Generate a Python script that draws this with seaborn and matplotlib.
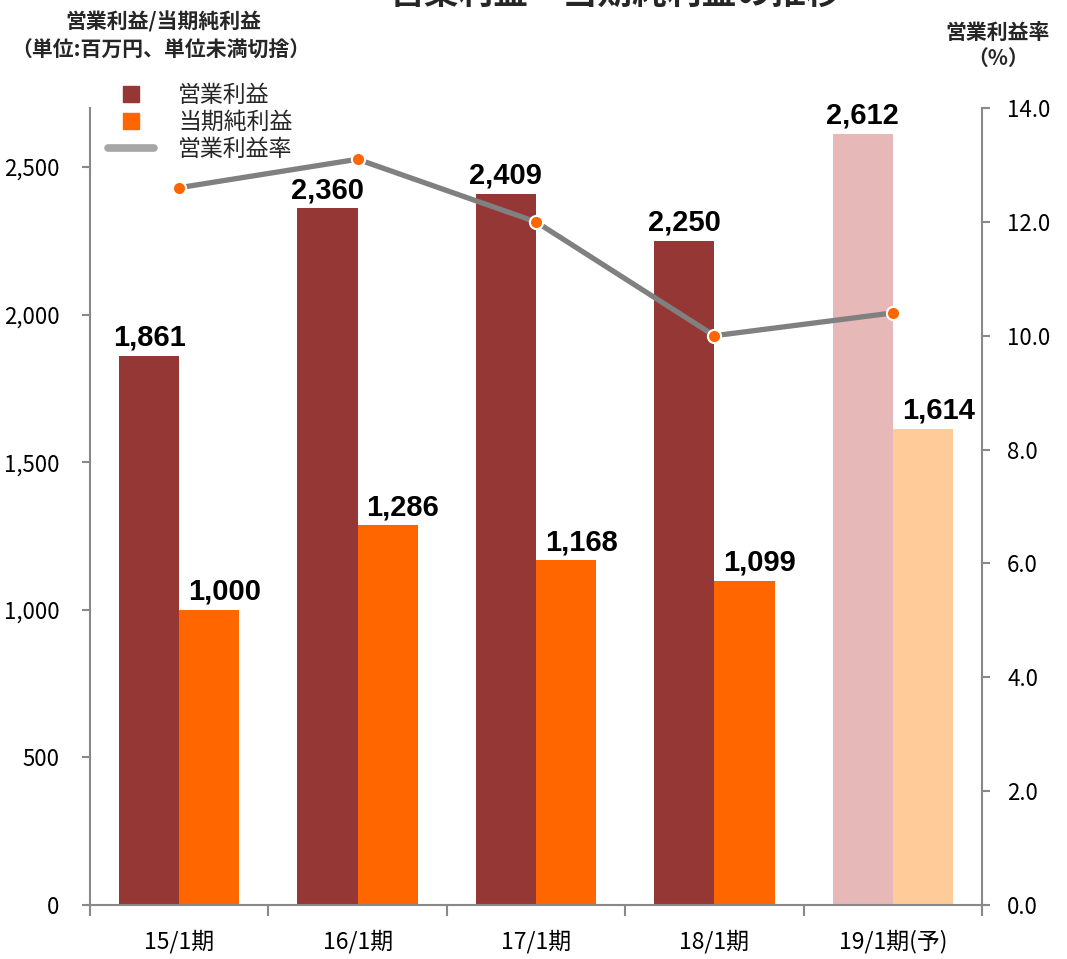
import matplotlib
matplotlib.use("Agg")
import matplotlib.pyplot as plt
import seaborn as sns
import pandas as pd
import numpy as np
from matplotlib.lines import Line2D

# ---- data ----
periods = ["15/1期", "16/1期", "17/1期", "18/1期", "19/1期(予)"]
operating_profit = [1861, 2360, 2409, 2250, 2612]
net_profit = [1000, 1286, 1168, 1099, 1614]
operating_margin = [12.6, 13.1, 12.0, 10.0, 10.4]
left_ticks = [0, 500, 1000, 1500, 2000, 2500]
right_ticks = [0, 2, 4, 6, 8, 10, 12, 14]
series_names = ["営業利益", "当期純利益", "営業利益率"]
forecast_period = "19/1期(予)"

sns.set_theme(style="white")
plt.rcParams['font.family'] = ['Noto Sans CJK JP', 'DejaVu Sans']

W, H = 1067, 959
fig = plt.figure(figsize=(W / 100, H / 100), dpi=100)
ax = fig.add_axes([90 / W, 1 - 905 / H, (982 - 90) / W, (905 - 108) / H])

df = pd.DataFrame({
    "period": periods * 2,
    "value": operating_profit + net_profit,
    "series": [series_names[0]] * len(periods) + [series_names[1]] * len(periods),
})
colors = {series_names[0]: "#953735", series_names[1]: "#FF6600"}
faded = {series_names[0]: "#E6B9B8", series_names[1]: "#FFCC99"}

sns.barplot(data=df, x="period", y="value", hue="series", order=periods,
            hue_order=series_names[:2], palette=colors, width=0.675, gap=0,
            saturation=1, legend=False, ax=ax, linewidth=0, errorbar=None)

fidx = periods.index(forecast_period)
bars = [p for p in ax.patches]
n = len(periods)
for i, p in enumerate(bars):
    s = series_names[0] if i < n else series_names[1]
    cat = i % n
    if cat == fidx:
        p.set_facecolor(faded[s])
    val = (operating_profit if i < n else net_profit)[cat]
    dx = 0 if i < n else 11
    ax.annotate(f"{val:,}", (p.get_x() + p.get_width() / 2, p.get_height()),
                xytext=(dx, 3), textcoords="offset points", ha="center", va="bottom",
                fontsize=21, fontweight="bold", family=["Liberation Sans", "DejaVu Sans"],
                color="black")

ax.set_xlim(-0.5, len(periods) - 0.5)
ax.set_ylim(0, 2700)
ax.set_yticks(left_ticks)
ax.set_yticklabels([f"{v:,}" for v in left_ticks])
ax.set_xticks(range(len(periods)))
ax.set_xticklabels(periods)
ax.set_xticks(np.arange(-0.5, len(periods), 1), minor=True)
ax.set_xlabel("")
ax.set_ylabel("")

spine_c = "#898989"
ax.tick_params(axis="y", left=True, length=6, width=1.5, color=spine_c, pad=16,
               labelsize=16, labelcolor="black")
ax.tick_params(axis="x", which="major", bottom=True, length=0, pad=18, labelsize=16.5,
               labelcolor="black")
ax.tick_params(axis="x", which="minor", bottom=True, length=8, width=1.5, color=spine_c,
               direction="out")

# ---- line on secondary axis ----
ax2 = ax.twinx()
sns.lineplot(x=np.arange(len(periods)), y=operating_margin, ax=ax2, color="#808080",
             lw=3.8, marker="o", markersize=9.5, markerfacecolor="#FF6600",
             markeredgecolor="white", markeredgewidth=1.5, zorder=5)
ax2.set_ylim(0, 14)
ax2.set_yticks(right_ticks)
ax2.set_yticklabels([f"{v:.1f}" for v in right_ticks])
ax2.set_ylabel("")
ax2.tick_params(axis="y", right=True, length=6, width=1.5, color=spine_c, pad=12,
                labelsize=16, labelcolor="black")
ax.set_xlim(-0.5, len(periods) - 0.5)

for a in (ax, ax2):
    a.spines["top"].set_visible(False)
    for s in ("left", "right", "bottom"):
        a.spines[s].set_color(spine_c)
        a.spines[s].set_linewidth(1.5)
ax.spines["right"].set_visible(False)
ax2.spines["left"].set_visible(False)
ax2.spines["bottom"].set_visible(False)

# ---- legend ----
handles = [
    Line2D([], [], linestyle="none", marker="s", markersize=12, color=colors[series_names[0]]),
    Line2D([], [], linestyle="none", marker="s", markersize=12, color=colors[series_names[1]]),
    Line2D([], [], color="#A6A6A6", lw=5.5),
]
fig.legend(handles, series_names, loc="upper left", bbox_to_anchor=(108 / W, 1 - 84 / H),
           frameon=False, fontsize=16.5, handlelength=2.0, handletextpad=1.05,
           labelspacing=0.17, borderpad=0, borderaxespad=0)

# ---- header texts ----
fig.text(615 / W, 1 - 4 / H, "営業利益・当期純利益の推移", ha="center", va="baseline",
         fontsize=25, fontweight="bold")
fig.text(163 / W, 1 - 22 / H, "営業利益/当期純利益", ha="center", va="center",
         fontsize=15, fontweight="bold")
fig.text(161 / W, 1 - 50 / H, "（単位:百万円、単位未満切捨）", ha="center", va="center",
         fontsize=15, fontweight="bold")
fig.text(998 / W, 1 - 32 / H, "営業利益率", ha="center", va="center",
         fontsize=15, fontweight="bold")
fig.text(998 / W, 1 - 58 / H, "（%）", ha="center", va="center",
         fontsize=15, fontweight="bold")

fig.savefig("out.png", dpi=100, facecolor="white")
